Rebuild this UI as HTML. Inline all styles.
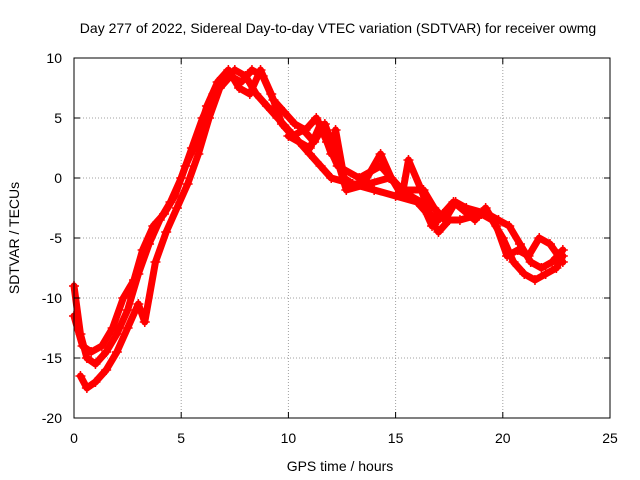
<!DOCTYPE html>
<html><head><meta charset="utf-8"><style>
body{margin:0;background:#fff}
svg{display:block;font-family:"Liberation Sans",sans-serif}
</style></head><body>
<svg id="chart" width="640" height="480" xmlns="http://www.w3.org/2000/svg">
<text x="338" y="33" font-size="14" text-anchor="middle">Day 277 of 2022, Sidereal Day-to-day VTEC variation (SDTVAR) for receiver owmg</text>
<g id="grid"></g>
<g id="series"></g>
<g id="axes"></g>
<text x="340" y="471" font-size="14" text-anchor="middle">GPS time / hours</text>
<text transform="translate(19,238) rotate(-90)" font-size="14" text-anchor="middle">SDTVAR / TECUs</text>
</svg>
<script>
const xTicks=[0,5,10,15,20,25];
const yTicks=[10,5,0,-5,-10,-15,-20];
const traceA_t=[0,0.3,0.6,1,1.5,2,2.5,3,3.5,4,4.5,5,5.5,6,6.5,7,7.5,8,8.5,9,9.5,10,10.5,11,11.5,12,13,14,15,16,16.5,17,17.5,18,19,19.5,20,20.5,21,21.5,22,22.5,22.8];
const traceA_v=[-9,-13,-15,-15.5,-14.5,-13,-11,-8,-5.5,-3.5,-2,0,2.5,5,7,8,9,8.5,7,6,5,4,3,2,1,0,-0.5,-1,-1.5,-2,-3,-4.5,-3.5,-3.5,-3,-3.5,-5,-7,-8,-8.5,-8,-7.5,-6.5];
const traceB_t=[0.3,0.6,1,1.5,2,2.5,3,3.3,3.8,4.3,4.8,5.3,5.8,6.3,6.8,7.3,7.8,8.3,8.8,9.3,9.8,10.3,10.8,11.3,11.8,12.3,13.3,14.3,15.3,16.3,16.8,17.3,17.8,18.3,19.3,19.8,20.3,20.8,21.3,21.8,22.3,22.8];
const traceB_v=[-16.5,-17.5,-17,-16,-14.5,-12.5,-10.5,-12,-7,-4.5,-2.5,-0.5,2,5,7.5,8.5,8,9,8.5,6.5,5.5,4.5,4,5,3,1,0,1,-1,-1,-2.5,-3.5,-2,-2.5,-3,-3.5,-4,-5.5,-7,-7.5,-7,-6];
const traceC_t=[0,0.4,0.8,1.3,1.8,2.3,2.8,3.2,3.7,4.2,4.7,5.2,5.7,6.2,6.7,7.2,7.7,8.2,8.7,9.2,9.7,10.2,10.7,11.2,11.7,12.2,12.7,13.7,14.7,15.7,16.2,16.7,17.2,17.7,18.7,19.2,19.7,20.2,20.7,21.2,21.7,22.2,22.8];
const traceC_v=[-11.5,-14,-14.5,-14,-12.5,-10,-8.5,-6,-4,-3,-1.5,1,3,6,8,9,7.5,7,9,7,4.5,3.5,4,3,4.5,2,-1,-0.5,0,-1.5,-2,-4,-3,-2,-3.5,-2.5,-4,-6.5,-6,-6.5,-5,-5.5,-7];
const traceD_t=[10,10.5,11,11.5,12,12.2,12.6,13,13.5,14.3,14.8,15.3,15.6,16.2,16.6,17];
const traceD_v=[3.5,3,2.5,4.5,2,4,0,-0.5,-0.5,2,0,-1.5,1.5,-1,-3,-3.5];
const traces=[[traceA_t,traceA_v],[traceB_t,traceB_v],[traceC_t,traceC_v],[traceD_t,traceD_v]];
const L=74,R=610,T=58,B=418;
const sx=t=>L+(t-0)/25*(R-L);
const sy=v=>B-(v+20)/30*(B-T);
const NS="http://www.w3.org/2000/svg";
function mk(tag,attrs,parent){const e=document.createElementNS(NS,tag);for(const k in attrs)e.setAttribute(k,attrs[k]);parent.appendChild(e);return e;}
const grid=document.getElementById('grid'),axes=document.getElementById('axes'),ser=document.getElementById('series');
xTicks.forEach(t=>{const x=sx(t);
 if(t>0&&t<25){const g=mk('line',{x1:x,x2:x,y1:T,y2:B,stroke:'#a0a0a0','stroke-dasharray':'1,2'},grid);
 
 }
 mk('line',{x1:x,x2:x,y1:B,y2:B-6,stroke:'#000'},axes);
 mk('line',{x1:x,x2:x,y1:T,y2:T+6,stroke:'#000'},axes);
 const lb=mk('text',{x:x,y:443,'font-size':14,'text-anchor':'middle'},axes);lb.textContent=t;
 
 });
yTicks.forEach(v=>{const y=sy(v);
 if(v>-20&&v<10){const g=mk('line',{x1:L,x2:R,y1:y,y2:y,stroke:'#a0a0a0','stroke-dasharray':'1,2'},grid);
 
 }
 mk('line',{x1:L,x2:L+6,y1:y,y2:y,stroke:'#000'},axes);
 mk('line',{x1:R,x2:R-6,y1:y,y2:y,stroke:'#000'},axes);
 const lb=mk('text',{x:62,y:y+5,'font-size':14,'text-anchor':'end'},axes);lb.textContent=v;
 
 });
mk('rect',{x:L,y:T,width:R-L,height:B-T,fill:'none',stroke:'#000'},axes);
traces.forEach(([ts,vs])=>{
 const pl=mk('polyline',{points:ts.map((t,i)=>sx(t)+','+sy(vs[i])).join(' '),fill:'none',stroke:'#f00','stroke-width':7,'stroke-linejoin':'round','stroke-linecap':'round'},ser);
 
 
 ts.forEach((t,i)=>{const x=sx(t),y=sy(vs[i]);
  const p=mk('path',{d:`M${x-5},${y}h10M${x},${y-5}v10`,stroke:'#f00','stroke-width':1.5},ser);
  
  });
});
</script>
</body></html>
